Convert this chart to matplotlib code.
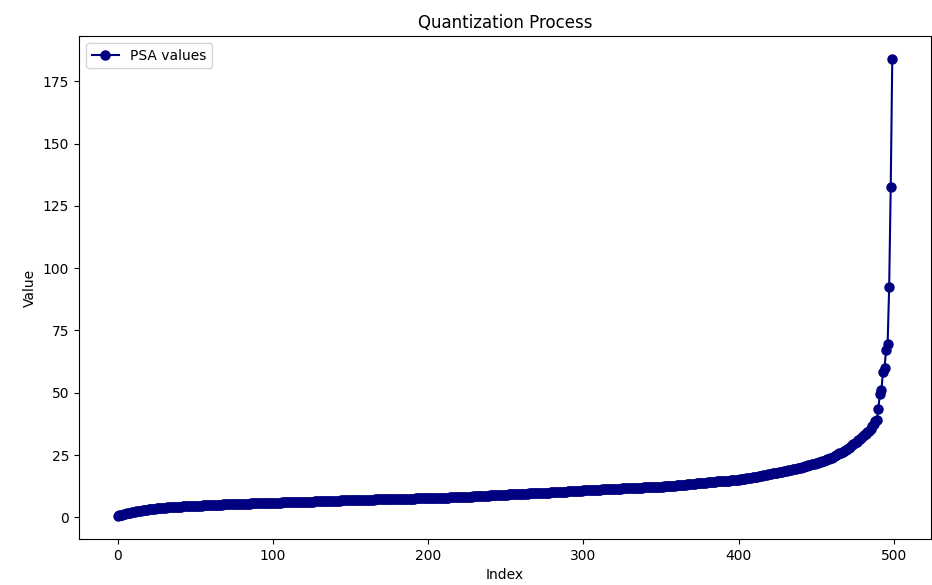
import numpy as np
import matplotlib
matplotlib.use("Agg")
import matplotlib.pyplot as plt

# sorted PSA values, 10 per row (index 0..499)
psa_values = [
    0.5, 0.8, 1.0, 1.1, 1.3, 1.4, 1.6, 1.7, 1.9, 2.0,
    2.2, 2.3, 2.4, 2.5, 2.6, 2.7, 2.8, 2.9, 3.0, 3.1,
    3.2, 3.3, 3.3, 3.4, 3.5, 3.6, 3.6, 3.7, 3.8, 3.8,
    3.9, 3.9, 4.0, 4.0, 4.1, 4.1, 4.2, 4.2, 4.2, 4.3,
    4.3, 4.3, 4.4, 4.4, 4.4, 4.5, 4.5, 4.5, 4.5, 4.6,
    4.6, 4.6, 4.7, 4.7, 4.7, 4.8, 4.8, 4.8, 4.9, 4.9,
    4.9, 5.0, 5.0, 5.0, 5.0, 5.1, 5.1, 5.1, 5.2, 5.2,
    5.2, 5.2, 5.3, 5.3, 5.3, 5.3, 5.4, 5.4, 5.4, 5.4,
    5.4, 5.5, 5.5, 5.5, 5.5, 5.5, 5.6, 5.6, 5.6, 5.6,
    5.6, 5.7, 5.7, 5.7, 5.7, 5.7, 5.8, 5.8, 5.8, 5.8,
    5.8, 5.9, 5.9, 5.9, 5.9, 5.9, 6.0, 6.0, 6.0, 6.0,
    6.0, 6.0, 6.1, 6.1, 6.1, 6.1, 6.1, 6.2, 6.2, 6.2,
    6.2, 6.2, 6.3, 6.3, 6.3, 6.3, 6.3, 6.4, 6.4, 6.4,
    6.4, 6.4, 6.5, 6.5, 6.5, 6.5, 6.6, 6.6, 6.6, 6.6,
    6.7, 6.7, 6.7, 6.7, 6.8, 6.8, 6.8, 6.8, 6.8, 6.9,
    6.9, 6.9, 6.9, 6.9, 7.0, 7.0, 7.0, 7.0, 7.0, 7.0,
    7.0, 7.1, 7.1, 7.1, 7.1, 7.1, 7.2, 7.2, 7.2, 7.2,
    7.2, 7.2, 7.3, 7.3, 7.3, 7.3, 7.3, 7.4, 7.4, 7.4,
    7.4, 7.4, 7.4, 7.5, 7.5, 7.5, 7.5, 7.5, 7.5, 7.5,
    7.5, 7.5, 7.6, 7.6, 7.6, 7.6, 7.6, 7.6, 7.6, 7.6,
    7.6, 7.7, 7.7, 7.7, 7.7, 7.7, 7.8, 7.8, 7.8, 7.8,
    7.8, 7.9, 7.9, 7.9, 8.0, 8.0, 8.0, 8.0, 8.1, 8.1,
    8.1, 8.1, 8.2, 8.2, 8.2, 8.3, 8.3, 8.3, 8.3, 8.4,
    8.4, 8.4, 8.5, 8.5, 8.5, 8.6, 8.6, 8.6, 8.7, 8.7,
    8.8, 8.8, 8.8, 8.9, 8.9, 8.9, 9.0, 9.0, 9.0, 9.1,
    9.1, 9.1, 9.2, 9.2, 9.2, 9.3, 9.3, 9.3, 9.3, 9.4,
    9.4, 9.4, 9.5, 9.5, 9.5, 9.6, 9.6, 9.6, 9.6, 9.7,
    9.7, 9.7, 9.8, 9.8, 9.8, 9.9, 9.9, 9.9, 9.9, 10.0,
    10.0, 10.0, 10.1, 10.1, 10.2, 10.2, 10.2, 10.3, 10.3, 10.3,
    10.4, 10.4, 10.5, 10.5, 10.5, 10.6, 10.6, 10.7, 10.7, 10.7,
    10.8, 10.8, 10.8, 10.9, 10.9, 10.9, 11.0, 11.0, 11.0, 11.1,
    11.1, 11.1, 11.2, 11.2, 11.2, 11.3, 11.3, 11.3, 11.3, 11.4,
    11.4, 11.4, 11.5, 11.5, 11.5, 11.6, 11.6, 11.6, 11.6, 11.7,
    11.7, 11.7, 11.8, 11.8, 11.8, 11.9, 11.9, 11.9, 11.9, 12.0,
    12.0, 12.0, 12.1, 12.1, 12.1, 12.2, 12.2, 12.2, 12.2, 12.3,
    12.3, 12.3, 12.4, 12.4, 12.5, 12.5, 12.6, 12.6, 12.7, 12.7,
    12.8, 12.8, 12.9, 12.9, 13.0, 13.1, 13.1, 13.2, 13.3, 13.3,
    13.4, 13.4, 13.5, 13.6, 13.6, 13.7, 13.8, 13.8, 13.9, 13.9,
    14.0, 14.1, 14.1, 14.2, 14.2, 14.3, 14.4, 14.4, 14.5, 14.5,
    14.6, 14.7, 14.7, 14.8, 14.8, 14.9, 15.0, 15.0, 15.1, 15.1,
    15.2, 15.3, 15.4, 15.5, 15.6, 15.7, 15.8, 15.9, 16.0, 16.1,
    16.2, 16.3, 16.4, 16.5, 16.6, 16.8, 16.9, 17.0, 17.1, 17.3,
    17.4, 17.5, 17.7, 17.8, 17.9, 18.0, 18.2, 18.3, 18.4, 18.6,
    18.7, 18.8, 19.0, 19.1, 19.2, 19.4, 19.5, 19.6, 19.8, 19.9,
    20.0, 20.2, 20.4, 20.5, 20.7, 20.9, 21.1, 21.3, 21.4, 21.6,
    21.8, 22.0, 22.2, 22.4, 22.6, 22.8, 23.0, 23.3, 23.5, 23.8,
    24.0, 24.3, 24.6, 25.0, 25.3, 25.7, 26.0, 26.4, 26.8, 27.1,
    27.5, 27.9, 28.4, 28.9, 29.4, 29.9, 30.4, 30.9, 31.4, 32.0,
    32.5, 33.0, 33.6, 34.2, 34.8, 35.5, 36.5, 37.5, 38.5, 39.0,
    43.5, 49.5, 51.0, 58.5, 60.0, 67.0, 69.5, 92.5, 132.5, 184.0,
]
index = np.arange(len(psa_values))

fig = plt.figure(figsize=(9.32, 5.85), dpi=100)
ax = fig.add_axes([79 / 932, 46 / 585, 852 / 932, 503 / 585])

ax.plot(index, psa_values, marker='o', markersize=6.5, color='navy',
        linewidth=1.5, label='PSA values')
ax.set_xlabel('Index')
ax.set_ylabel('Value')
ax.set_title('Quantization Process')
ax.legend(loc='upper left')

fig.savefig('out.png', dpi=100)
